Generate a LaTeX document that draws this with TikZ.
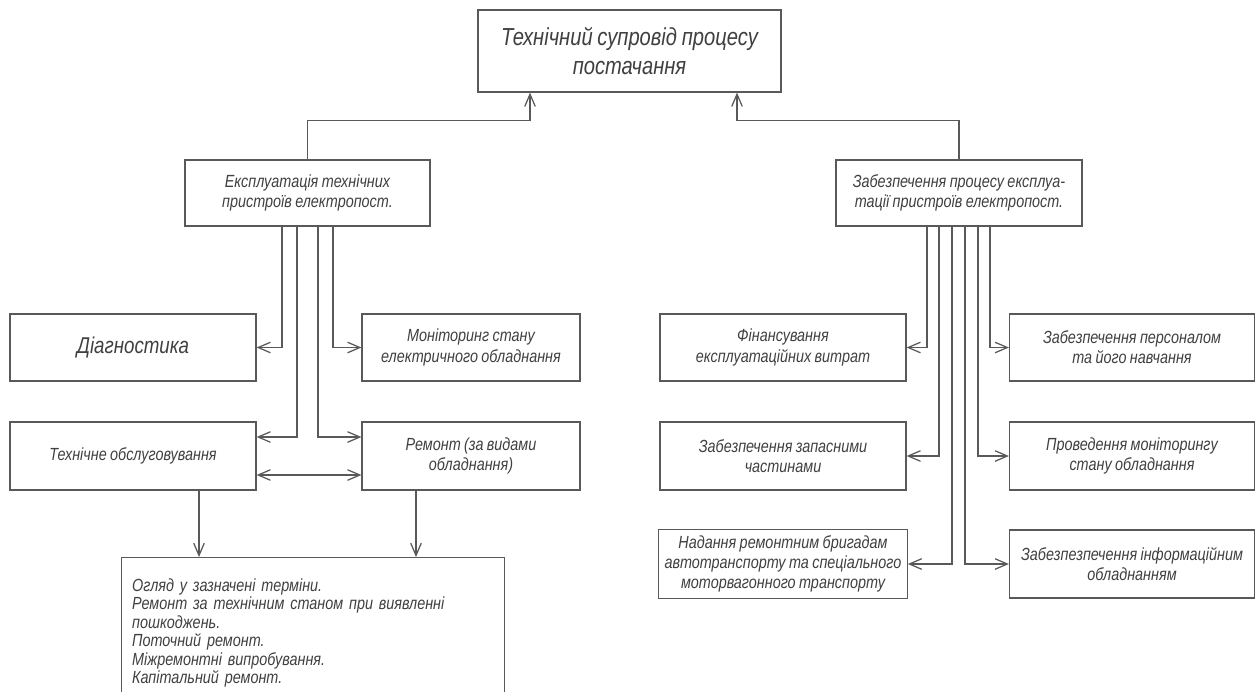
\documentclass[tikz,border=0pt]{standalone}
\usepackage{fontspec}
\setmainfont{Liberation Sans}[FakeStretch=0.82, WordSpace=0.85]
\usetikzlibrary{arrows.meta,calc}

\begin{document}
\begin{tikzpicture}[x=0.02cm, y=-0.02cm,
    box/.style={draw=black!65, line width=0.7pt, text=black!75, align=center,
        font=\itshape\fontsize{10}{11.5}\selectfont},
    arr/.style={draw=black!65, line width=0.7pt, -{Straight Barb[length=7pt,width=6pt]}},
    arrs/.style={arr, {Straight Barb[length=7pt,width=6pt]}-{Straight Barb[length=7pt,width=6pt]}}]
                \clip (0,0) rectangle (1257,691);
                \fill[white] (0,0) rectangle (1257,691);

                \def\bw{246}
                \def\bh{67}

                \node[box, minimum width=303*0.02cm, minimum height=82*0.02cm,
                    font=\itshape\fontsize{14}{17}\selectfont] (top) at (629.5,51)
                    {Технічний супровід процесу\\постачання};

                \node[box, minimum width=245*0.02cm, minimum height=66*0.02cm] (expl) at (307.5,193)
                    {Експлуатація технічних\\пристроїв електропост.};
                \node[box, minimum width=\bw*0.02cm, minimum height=66*0.02cm] (zab) at (959,193)
                    {Забезпечення процесу експлуа-\\тації пристроїв електропост.};

                \node[box, minimum width=\bw*0.02cm, minimum height=\bh*0.02cm,
                    font=\itshape\fontsize{13}{15}\selectfont] (diag) at (133,347.5) {Діагностика};
                \node[box, minimum width=218*0.02cm, minimum height=\bh*0.02cm] (monit) at (471,347.5)
                    {Моніторинг стану\\електричного обладнання};
                \node[box, minimum width=\bw*0.02cm, minimum height=68*0.02cm] (teh) at (133,456)
                    {Технічне обслуговування};
                \node[box, minimum width=218*0.02cm, minimum height=68*0.02cm] (remont) at (471,456)
                    {Ремонт (за видами\\обладнання)};
                \node[box, anchor=north west, align=left, text width=362*0.02cm,
                    font=\itshape\fontsize{10}{10.5}\selectfont,
                    inner xsep=6pt, inner ysep=12pt, minimum width=375*0.02cm] (spysok) at (121,557)
                    {Огляд у зазначені терміни.\\
                     Ремонт за технічним станом при виявленні\\
                     пошкоджень.\\
                     Поточний ремонт.\\
                     Міжремонтні випробування.\\
                     Капітальний ремонт.\\[14pt]};

                \node[box, minimum width=\bw*0.02cm, minimum height=\bh*0.02cm] (fin) at (783,347.5)
                    {Фінансування\\експлуатаційних витрат};
                \node[box, minimum width=245*0.02cm, minimum height=\bh*0.02cm] (pers) at (1132,347.5)
                    {Забезпечення персоналом\\та його навчання};
                \node[box, minimum width=\bw*0.02cm, minimum height=68*0.02cm] (zap) at (783,456)
                    {Забезпечення запасними\\частинами};
                \node[box, minimum width=245*0.02cm, minimum height=68*0.02cm] (prov) at (1132,456)
                    {Проведення моніторингу\\стану обладнання};
                \node[box, minimum width=\bw*0.02cm, minimum height=68*0.02cm] (nad) at (783,564)
                    {Надання ремонтним бригадам\\автотранспорту та спеціального\\моторвагонного транспорту};
                \node[box, minimum width=245*0.02cm, minimum height=68*0.02cm] (inf) at (1132,564)
                    {Забезпезпечення інформаційним\\обладнанням};

                \draw[arr] (expl.north) |- ($(top.south)+(-99.5,28)$) -- ($(top.south)+(-99.5,0)$);
                \draw[arr] (zab.north) |- ($(top.south)+(107.5,28)$) -- ($(top.south)+(107.5,0)$);

                \draw[arr] ($(expl.south)+(-25.5,0)$) |- (diag.east);
                \draw[arr] ($(expl.south)+(-10.5,0)$) |- ($(teh.east)+(0,-19)$);
                \draw[arr] ($(expl.south)+(10.5,0)$) |- ($(remont.west)+(0,-19)$);
                \draw[arr] ($(expl.south)+(25.5,0)$) |- (monit.west);
                \draw[arrs] ($(teh.east)+(0,19)$) -- ($(remont.west)+(0,19)$);
                \draw[arr] (teh.south) ++(66,0) coordinate (t1) -- (t1 |- spysok.north);
                \draw[arr] (remont.south) ++(-55,0) coordinate (r1) -- (r1 |- spysok.north);

                \draw[arr] ($(zab.south)+(-32,0)$) |- (fin.east);
                \draw[arr] ($(zab.south)+(-20,0)$) |- (zap.east);
                \draw[arr] ($(zab.south)+(-7,0)$) |- (nad.east);
                \draw[arr] ($(zab.south)+(6,0)$) |- (inf.west);
                \draw[arr] ($(zab.south)+(19,0)$) |- (prov.west);
                \draw[arr] ($(zab.south)+(31,0)$) |- (pers.west);
            \end{tikzpicture}
\end{document}
